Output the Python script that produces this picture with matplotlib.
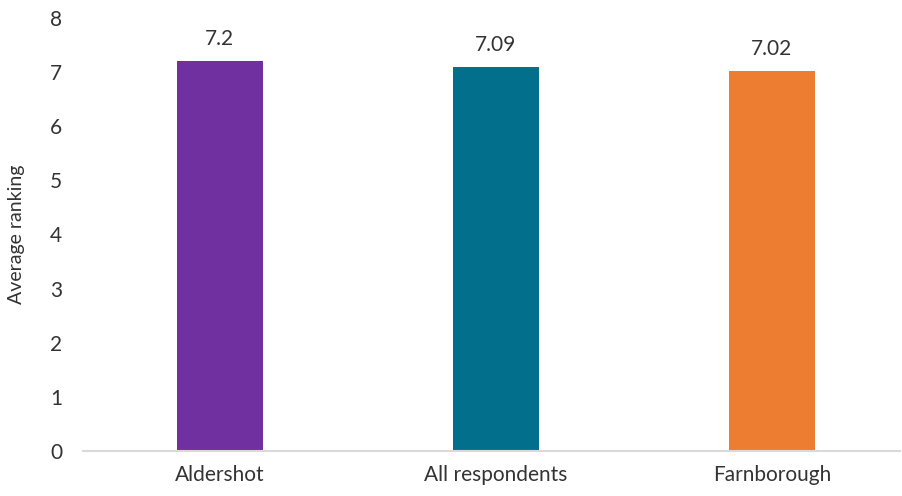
import matplotlib
matplotlib.use("Agg")
import matplotlib.pyplot as plt

categories = ["Aldershot", "All respondents", "Farnborough"]
values = [7.2, 7.09, 7.02]
labels = ["7.2", "7.09", "7.02"]
colors = ["#7030A0", "#02708D", "#ED7D31"]
yticks = [0, 1, 2, 3, 4, 5, 6, 7, 8]

plt.rcParams['font.family'] = ['Lato', 'DejaVu Sans']

fig = plt.figure(figsize=(9.02, 4.96), dpi=100)
ax = fig.add_axes([83/902, 45/496, 817/902, 433/496])
x = list(range(len(categories)))
bars = ax.bar(x, values, width=0.31, color=colors, zorder=2)
for xi, v, lab in zip(x, values, labels):
    ax.annotate(lab, (xi, v), xytext=(0, 9), textcoords="offset points",
                ha="center", va="bottom", fontsize=15, color="#333333")

ax.set_xlim(-0.496, 2.464)
ax.set_ylim(0, 8)
ax.set_yticks(yticks)
ax.set_xticks(x)
ax.set_xticklabels(categories)
ax.tick_params(axis='both', length=0, labelsize=15, labelcolor="#333333")
ax.tick_params(axis='y', pad=15)
ax.tick_params(axis='x', pad=10)
for s in ["top", "right", "left"]:
    ax.spines[s].set_visible(False)
ax.spines["bottom"].set_color("#D9D9D9")
ax.spines["bottom"].set_linewidth(1.5)
ax.set_ylabel("Average ranking", fontsize=14, color="#333333", labelpad=18)

fig.savefig("out.png", dpi=100)
